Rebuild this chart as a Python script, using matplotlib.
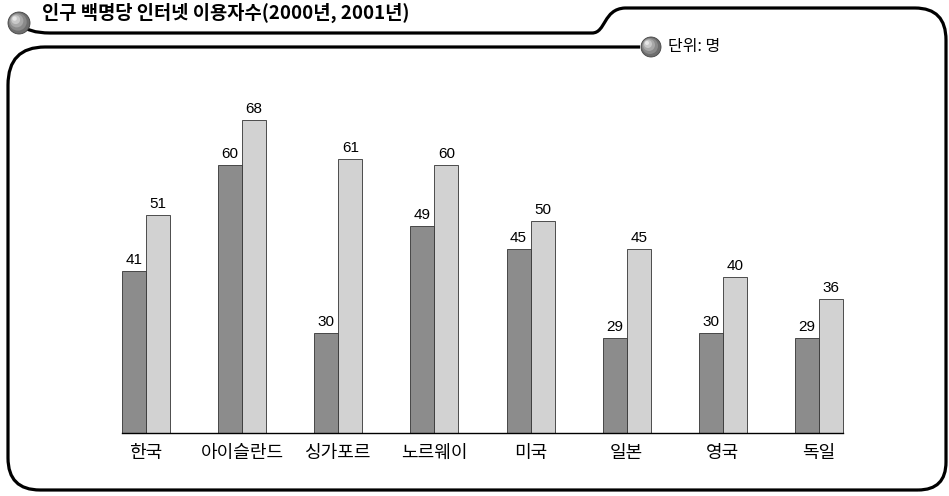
"""인구 백명당 인터넷 이용자수 (2000년, 2001년) 막대그래프."""

import matplotlib

matplotlib.use("Agg")

import matplotlib.pyplot as plt
import numpy as np
from matplotlib.patches import Circle, PathPatch, Rectangle
from matplotlib.path import Path

plt.rcParams["font.family"] = ["Noto Sans CJK KR", "DejaVu Sans"]

countries = ["한국", "아이슬란드", "싱가포르", "노르웨이", "미국", "일본", "영국", "독일"]
users_2000 = [41, 60, 30, 49, 45, 29, 30, 29]
users_2001 = [51, 68, 61, 60, 50, 45, 40, 36]
series_names = ["2000년", "2001년"]

title = "인구 백명당 인터넷 이용자수(2000년, 2001년)"
unit_text = "단위: 명"

DARK = "#8c8c8c"
LIGHT = "#d2d2d2"
W, H = 949, 496

fig = plt.figure(figsize=(W / 100, H / 100), dpi=100)

# overlay in pixel coordinates for the frame and decorations
deco = fig.add_axes([0, 0, 1, 1])
deco.set_xlim(0, W)
deco.set_ylim(H, 0)
deco.axis("off")

M, L, C3, C4 = Path.MOVETO, Path.LINETO, Path.CURVE3, Path.CURVE4
tab = Path(
    [(20, 24), (28, 33), (50, 33), (592, 33), (606, 33), (603, 9), (625, 8),
     (915, 8), (946, 8), (946, 40), (946, 462), (946, 490), (918, 490)],
    [M, C3, C3, L, C4, C4, C4, L, C3, C3, L, C3, C3],
)
frame = Path(
    [(640, 47), (45, 47), (8, 47), (8, 85), (8, 458), (8, 490), (40, 490), (918, 490)],
    [M, L, C3, C3, L, C3, C3, L],
)
for p in (tab, frame):
    deco.add_patch(PathPatch(p, fill=False, lw=2.3, ec="black", capstyle="butt"))


def ball(x, y, r):
    deco.add_patch(Circle((x, y), r, fc="#6e6e6e", ec="#444444", lw=0.6, zorder=5))
    for k, c in enumerate(["#8a8a8a", "#a8a8a8", "#c8c8c8", "#e6e6e6"]):
        f = 1 - (k + 1) * 0.2
        deco.add_patch(Circle((x - r * (1 - f) * 0.5, y - r * (1 - f) * 0.5), r * f,
                              fc=c, ec="none", zorder=6))


ball(19, 23, 11)
ball(651, 47, 10)

deco.text(42, 23, title, fontsize=13.5, fontweight="bold", va="bottom", ha="left")
deco.text(668, 47, unit_text, fontsize=11.5, va="center", ha="left")

# legend cells
deco.add_patch(Rectangle((668, 147), 90, 26, fc=DARK, ec="#555555", lw=0.6))
deco.add_patch(Rectangle((758, 147), 92, 26, fc=LIGHT, ec="#555555", lw=0.6))
deco.text(713, 160, series_names[0], fontsize=11.5, ha="center", va="center")
deco.text(804, 160, series_names[1], fontsize=11.5, ha="center", va="center")

# bar chart
ax = fig.add_axes([69 / W, (H - 433) / H, 827 / W, 333 / H])
x = np.arange(len(countries))
bw = 0.25
b1 = ax.bar(x - bw / 2, users_2000, bw, color=DARK, edgecolor="#333333", lw=0.6)
b2 = ax.bar(x + bw / 2, users_2001, bw, color=LIGHT, edgecolor="#333333", lw=0.6)
ax.bar_label(b1, padding=3, fontsize=11, family="Liberation Sans")
ax.bar_label(b2, padding=3, fontsize=11, family="Liberation Sans")

ax.set_xlim(-0.8, 7.8)
ax.set_ylim(12.1, 71.6)
for s in ("top", "left", "right"):
    ax.spines[s].set_visible(False)
ax.spines["bottom"].set_bounds(-0.25, 7.25)
ax.spines["bottom"].set_linewidth(1.0)
ax.set_yticks([])
ax.set_xticks(x)
ax.set_xticklabels(countries, fontsize=13)
ax.tick_params(axis="x", length=0, pad=8)

fig.savefig("out.png", dpi=100)
